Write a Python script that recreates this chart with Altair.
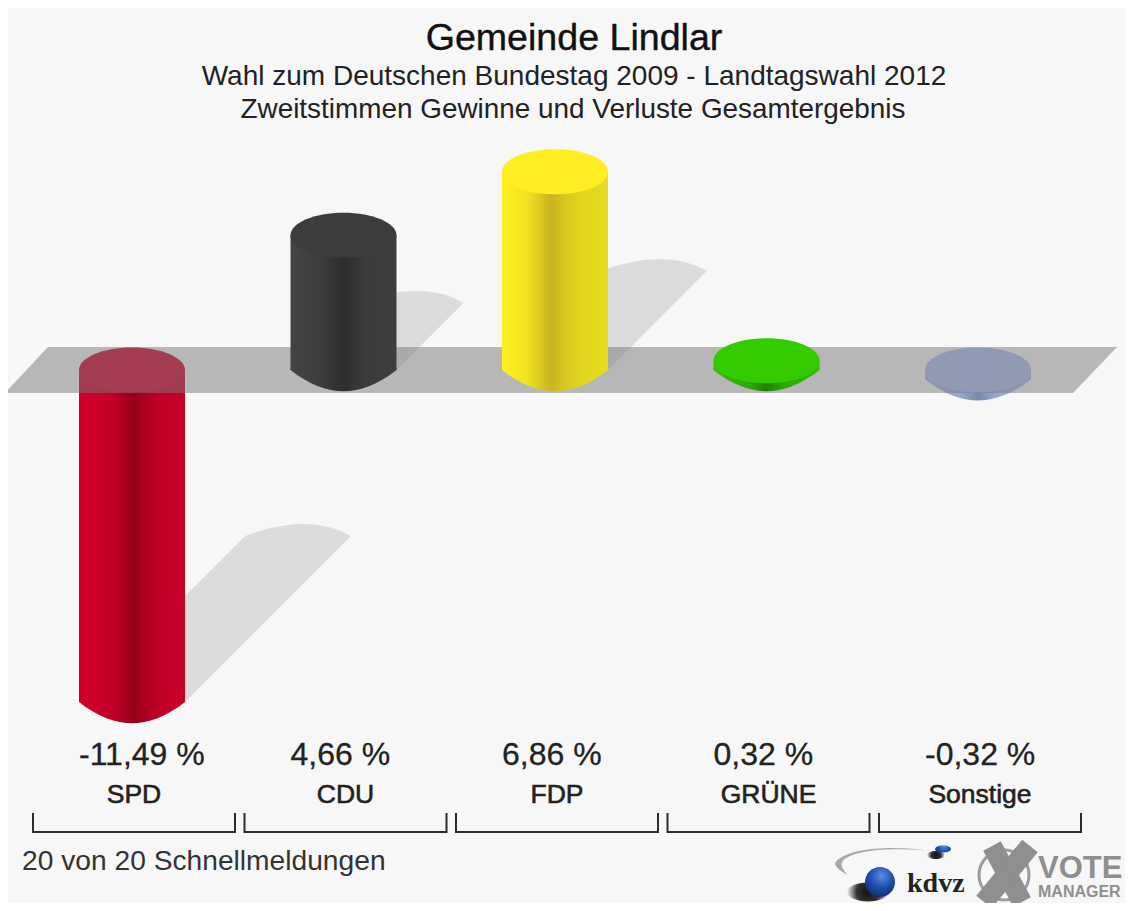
import altair as alt
import pandas as pd

# ---- values ----
parties = ["SPD", "CDU", "FDP", "GRÜNE", "Sonstige"]
changes = [-11.49, 4.66, 6.86, 0.32, -0.32]
labels = ["-11,49 %", "4,66 %", "6,86 %", "0,32 %", "-0,32 %"]
cap_colors = ["#d0002c", "#3c3c3c", "#ffee22", "#33cc00", "#a8bcf0"]
body_stops = [
    [(0, "#c8002a"), (0.06, "#d0002a"), (0.3, "#c20026"), (0.44, "#a8001f"), (0.52, "#96001b"), (0.6, "#a8001f"), (0.75, "#c00026"), (1, "#c8002a")],
    [(0, "#444444"), (0.3, "#3c3c3c"), (0.5, "#2e2e2e"), (0.7, "#3a3a3a"), (1, "#3e3e3e")],
    [(0, "#fff020"), (0.25, "#f0e020"), (0.46, "#c8b41e"), (0.6, "#d8c820"), (0.75, "#e4d620"), (1, "#e8dc22")],
    [(0, "#33c000"), (0.35, "#2aa800"), (0.5, "#1f8000"), (0.65, "#2aa800"), (1, "#33c000")],
    [(0, "#a8bcf0"), (0.35, "#93a3cc"), (0.5, "#7c8aa8"), (0.65, "#93a3cc"), (1, "#a8bcf0")],
]
titles = ["Gemeinde Lindlar", "Wahl zum Deutschen Bundestag 2009 - Landtagswahl 2012",
          "Zweitstimmen Gewinne und Verluste Gesamtergebnis"]
footer = "20 von 20 Schnellmeldungen"

BG = "#f7f7f7"
W, H = 1117, 895
STEP, X0 = 211.5, 132      # px between columns, px of first column
ZERO, PX_PER = 370, 28.9   # px of zero line, px per percent
BAR_W = 106
CAP = 22.5 / 53            # ellipse ratio
SHEAR = 0.5


def px(v):
    return v - 8


xs = alt.Scale(domain=[(8 - X0) / STEP, (8 + W - X0) / STEP], range=[0, W], nice=False, zero=False, padding=0)
ys = alt.Scale(domain=[(ZERO - (8 + H)) / PX_PER, (ZERO - 8) / PX_PER], range=[H, 0], nice=False, zero=False, padding=0)
X = lambda f="x": alt.X(f"{f}:Q", scale=xs, axis=None)
Y = lambda f="y": alt.Y(f"{f}:Q", scale=ys, axis=None)

ELLIPSE = f"M-1,0A1,{CAP:.4f} 0 1 1 1,0A1,{CAP:.4f} 0 1 1 -1,0Z"
BOTTOM = "M-1,-0.03L-1,0C-0.65,0.28 -0.3,0.4 0,0.4C0.3,0.4 0.65,0.28 1,0L1,-0.03Z"
SIZE = BAR_W ** 2


def grad(stops):
    return alt.Gradient(gradient="linear", x1=0, x2=1, y1=0, y2=0,
                        stops=[alt.GradientStop(offset=o, color=c) for o, c in stops])


def shadow(i, v):
    s = SHEAR * abs(v) * PX_PER / (BAR_W / 2)
    path = f"M-1,0L{s - 1:.4f},{-s:.4f}Q{s + 0.2:.4f},{-s - 0.45:.4f} {s + 1:.4f},{-s:.4f}L1,0Z"
    d = pd.DataFrame({"x": [i], "y": [min(v, 0)]})
    return alt.Chart(d).mark_point(shape=path, size=SIZE, filled=True, fill="#000000",
                                   opacity=0.105, strokeWidth=0).encode(x=X(), y=Y())


def column(i, v):
    base = pd.DataFrame({"x": [i], "y": [min(v, 0)], "y2": [max(v, 0)]})
    g = grad(body_stops[i])
    bar = alt.Chart(base).mark_bar(size=BAR_W, orient="vertical", fill=g, strokeWidth=0, opacity=1).encode(
        x=X(), y=Y(), y2=alt.Y2("y2:Q"))
    bottom = alt.Chart(base).mark_point(shape=BOTTOM, size=SIZE, filled=True, fill=g, strokeWidth=0, opacity=1).encode(
        x=X(), y=Y())
    top = alt.Chart(base).mark_point(shape=ELLIPSE, size=SIZE, filled=True, fill=cap_colors[i], strokeWidth=0,
                                     opacity=1).encode(x=X(), y=Y("y2"))
    return [bar, bottom, top]


def text(t, x, y, size, color="#222222", weight="normal", align="center", font="Liberation Sans", **kw):
    return alt.Chart(pd.DataFrame({"t": [t]})).mark_text(
        fontSize=size, color=color, fontWeight=weight, align=align, baseline="alphabetic", font=font, **kw
    ).encode(text="t:N", x=alt.value(px(x)), y=alt.value(px(y)))


def sym(shape, x, y, size, **kw):
    return alt.Chart(pd.DataFrame({"a": [0]})).mark_point(shape=shape, size=size, opacity=1, **kw).encode(
        x=alt.value(px(x)), y=alt.value(px(y)))


def seg(x1, y1, x2, y2, width, color):
    return alt.Chart(pd.DataFrame({"a": [0]})).mark_rule(strokeWidth=width, color=color, strokeCap="butt").encode(
        x=alt.value(px(x1)), x2=alt.value(px(x2)), y=alt.value(px(y1)), y2=alt.value(px(y2)))


# ground plane
band_h = 23 / PX_PER
plane = alt.Chart(pd.DataFrame({
    "y": [band_h, -band_h],
    "a": [(48 - X0) / STEP, (5 - X0) / STEP],
    "b": [(1117 - X0) / STEP, (1073 - X0) / STEP],
})).mark_area(orient="horizontal", color="#787878", opacity=0.5, clip=True).encode(
    y=Y(), x=X("a"), x2=alt.X2("b:Q"))

layers = []
for i, v in enumerate(changes):
    if abs(v) > 1:
        layers.append(shadow(i, v))
for i, v in enumerate(changes):
    if v < 0:
        layers += column(i, v)
layers.append(plane)
for i, v in enumerate(changes):
    if v >= 0:
        layers += column(i, v)

# titles
layers.append(text(titles[0], 574, 50, 37.6, color="#111111", stroke="#111111", strokeWidth=0.4))
layers.append(text(titles[1], 574, 85, 28))
layers.append(text(titles[2], 573, 118, 27.9))

# value and party labels, brackets
idx = list(range(len(parties)))
labs = pd.DataFrame({"x": idx, "v": labels, "p": parties})
layers.append(alt.Chart(labs).mark_text(fontSize=32, color="#222222", font="Liberation Sans", baseline="alphabetic",
                                        align="left", dx=-53, stroke="#222222", strokeWidth=0.3).encode(
    x=X(), y=alt.value(px(765)), text="v:N"))
layers.append(alt.Chart(labs).mark_text(fontSize=26.5, color="#222222", font="Liberation Sans", baseline="alphabetic",
                                        dx=2, stroke="#222222", strokeWidth=0.6).encode(
    x=X(), y=alt.value(px(803)), text="p:N"))

br = pd.DataFrame({"x": idx})
br["l"] = br["x"] + (33 - X0) / STEP
br["r"] = br["x"] + (235 - X0) / STEP
BR_C = "#2c2c2c"
layers.append(alt.Chart(br).mark_rule(color=BR_C, strokeWidth=2).encode(
    x=X("l"), x2=alt.X2("r:Q"), y=alt.value(px(832))))
for f in ("l", "r"):
    layers.append(alt.Chart(br).mark_rule(color=BR_C, strokeWidth=2).encode(
        x=X(f), y=alt.value(px(813)), y2=alt.value(px(833))))

layers.append(text(footer, 22, 870, 28.2, color="#333333", align="left"))

# logos
blue = alt.Gradient(gradient="radial", x1=0.55, y1=0.3, x2=0.55, y2=0.3, r1=0, r2=0.75,
                    stops=[alt.GradientStop(offset=0, color="#5a8ce0"), alt.GradientStop(offset=0.5, color="#1f4fb0"),
                           alt.GradientStop(offset=1, color="#0c2a70")])
shade = alt.Gradient(gradient="radial", stops=[alt.GradientStop(offset=0, color="#111111"),
                                               alt.GradientStop(offset=0.55, color="#333333"),
                                               alt.GradientStop(offset=1, color=BG)])
CIRCLE = "M-1,0A1,1 0 1 1 1,0A1,1 0 1 1 -1,0Z"
OVAL = "M-1,0A1,0.45 0 1 1 1,0A1,0.45 0 1 1 -1,0Z"
SWOOSH = "M1,-0.33C0.3,-0.42 -0.65,-0.4 -0.98,-0.08C-1.05,0 -0.9,0.12 -0.72,0.22C-0.85,0.08 -0.9,-0.03 -0.8,-0.12C-0.5,-0.36 0.3,-0.38 1,-0.33Z"
layers += [
    sym(SWOOSH, 880, 865, 90 ** 2, filled=True, fill="#a8a8a8", strokeWidth=0),
    sym(OVAL, 868, 892, 42 ** 2, filled=True, fill=shade, strokeWidth=0),
    sym(CIRCLE, 880, 882, 30 ** 2, filled=True, fill=blue, strokeWidth=0),
    sym(OVAL, 936, 855, 18 ** 2, filled=True, fill=shade, strokeWidth=0),
    sym(OVAL, 943, 849, 16 ** 2, filled=True, fill=blue, strokeWidth=0),
    text("kdvz", 907, 892, 28, color="#222222", weight="bold", align="left", font="Liberation Serif"),
    sym(CIRCLE, 1004, 875, 50 ** 2, filled=False, stroke="#9c9c9c", strokeWidth=3),
    seg(992, 846, 1022, 902, 20, "#8f8f8f"),
    seg(1030, 846, 984, 902, 20, "#8f8f8f"),
    text("VOTE", 1038, 878, 31, color="#8f8f8f", weight="bold", align="left"),
    text("MANAGER", 1038, 897, 16, color="#8f8f8f", weight="bold", align="left"),
]

chart = alt.layer(*layers).properties(
    width=W, height=H, padding=0, background=BG,
    autosize=alt.AutoSizeParams(type="none"),
).resolve_scale(x="shared", y="shared").configure_view(strokeWidth=0)

chart.save("out.html", embed_options={"renderer": "svg", "actions": False})
